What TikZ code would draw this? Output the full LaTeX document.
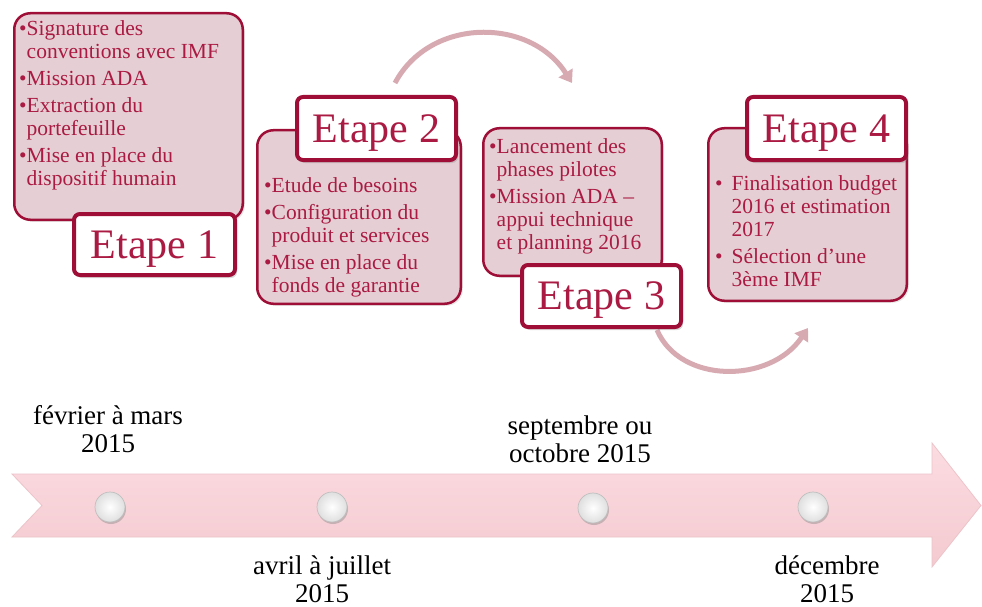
\documentclass[tikz,border=0pt]{standalone}
\usepackage{fontspec}
\setmainfont{Liberation Serif}
\usepackage{xcolor}
\usetikzlibrary{arrows.meta, shadows}

\definecolor{etapered}{RGB}{158,14,54}
\definecolor{listred}{RGB}{170,26,66}
\definecolor{blocfill}{RGB}{229,207,212}
\definecolor{courbecol}{RGB}{215,170,178}
\definecolor{flechehaut}{RGB}{252,220,225}
\definecolor{flechebas}{RGB}{243,202,208}
\definecolor{flechebord}{RGB}{236,196,202}

\begin{document}
\begin{tikzpicture}[x=1pt,y=-1pt,
    bloc/.style={draw=etapered,line width=2.5pt,fill=blocfill,rounded corners=16pt,drop shadow={opacity=0.2,shadow xshift=2pt,shadow yshift=-2pt}},
    etape/.style={draw=etapered,line width=4pt,fill=white,rounded corners=6pt,text=listred,inner sep=0pt,text depth=0pt,font=\fontsize{42}{46}\selectfont,drop shadow={opacity=0.3,shadow xshift=2pt,shadow yshift=-3pt}},
    liste/.style={anchor=north west,inner sep=0pt,text=listred,font=\fontsize{21.5}{23}\selectfont},
    date/.style={anchor=base,align=center,inner sep=0pt,font=\fontsize{27}{28}\selectfont},
    jalon/.style={circle,minimum size=30pt,inner sep=0pt,draw=gray!50,line width=0.7pt,inner color=white,outer color=gray!25,drop shadow={opacity=0.4,shadow xshift=1pt,shadow yshift=-2pt}},
    suite/.style={draw=courbecol,line width=5pt,-{Triangle[length=12pt,width=16pt]}}]
    \useasboundingbox (0,0) rectangle (982,607);

    % frise
    \shade[top color=flechehaut,bottom color=flechebas,draw=flechebord,line width=0.8pt]
        (12,474) -- (932,474) -- (932,443) -- (981,505.5) -- (932,567) -- (932,537)
        -- (12,537) -- (42,505.5) -- cycle;
    \node[jalon] (j1) at (110,507) {};
    \node[jalon] (j2) at (332,507) {};
    \node[jalon] (j3) at (593,508) {};
    \node[jalon] (j4) at (813,507) {};

    \node[date] (d1) at (108,452) {février à mars\\2015};
    \node[date] (d2) at (322,602) {avril à juillet\\2015};
    \node[date] (d3) at (580,462) {septembre ou\\octobre 2015};
    \node[date] (d4) at (827,602) {décembre\\2015};

    % fleches courbes
    \coordinate (s1) at (395,83);
    \coordinate (s2) at (572,83);
    \coordinate (s3) at (657,330);
    \coordinate (s4) at (808,328);
    \draw[suite] (s1) .. controls (430,17) and (530,17) .. (s2);
    \draw[suite] (s3) .. controls (680,384) and (770,384) .. (s4);

    % blocs
    \node[bloc,minimum width=228.5pt,minimum height=206.5pt] (b1) at (128.5,116.5) {};
    \node[bloc,minimum width=203.5pt,minimum height=173.5pt] (b2) at (359,217) {};
    \node[bloc,minimum width=178.5pt,minimum height=147.5pt] (b3) at (572.5,202) {};
    \node[bloc,minimum width=198.5pt,minimum height=172.5pt] (b4) at (807.5,214.5) {};

    \node[liste] (l1) at (19,19) {\begin{tabular}{@{}l@{}l@{}}
        •&Signature des\\
        &conventions avec IMF\\[4pt]
        •&Mission ADA\\[4pt]
        •&Extraction du\\
        &portefeuille\\[4pt]
        •&Mise en place du\\
        &dispositif humain
    \end{tabular}};
    \node[liste] (l2) at (264,176) {\begin{tabular}{@{}l@{}l@{}}
        •&Etude de besoins\\[4pt]
        •&Configuration du\\
        &produit et  services\\[4pt]
        •&Mise en place du\\
        &fonds de garantie
    \end{tabular}};
    \node[liste] (l3) at (489,137) {\begin{tabular}{@{}l@{}l@{}}
        •&Lancement des\\
        &phases pilotes\\[4pt]
        •&Mission ADA --\\
        &appui technique\\
        &et planning 2016
    \end{tabular}};
    \node[liste] (l4) at (715,174) {\begin{tabular}{@{}l@{\hspace{9pt}}l@{}}
        •&Finalisation budget\\
        &2016 et estimation\\
        &2017\\[4pt]
        •&Sélection d’une\\
        &3ème IMF
    \end{tabular}};

    % etapes
    \node[etape,minimum width=161pt,minimum height=61pt] (e1) at (154.5,244.5) {Etape 1};
    \node[etape,minimum width=159pt,minimum height=63pt] (e2) at (376.5,128.5) {Etape 2};
    \node[etape,minimum width=159pt,minimum height=62pt] (e3) at (601.5,296) {Etape 3};
    \node[etape,minimum width=159pt,minimum height=63pt] (e4) at (826.5,128.5) {Etape 4};
\end{tikzpicture}
\end{document}
